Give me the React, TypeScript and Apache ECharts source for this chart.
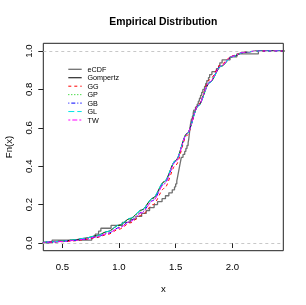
import React, { useEffect, useRef } from "react";
import * as echarts from "echarts";

// ---- data ----
const sample: number[] = [
  0.41, 0.76, 0.79, 0.82, 0.84, 0.93, 1.03, 1.1, 1.15, 1.2, 1.24, 1.27, 1.31,
  1.34, 1.38, 1.41, 1.44, 1.47, 1.49, 1.5, 1.51, 1.515, 1.52, 1.525, 1.53,
  1.535, 1.54, 1.545, 1.55, 1.565, 1.58, 1.59, 1.6, 1.61, 1.615, 1.618, 1.621,
  1.624, 1.627, 1.63, 1.635, 1.64, 1.648, 1.655, 1.66, 1.675, 1.69, 1.7, 1.71,
  1.72, 1.73, 1.74, 1.755, 1.765, 1.775, 1.79, 1.8, 1.82, 1.86, 1.88, 1.89,
  1.91, 1.98, 2.04, 2.23,
];

const gridX: number[] = [
  0.33, 0.4, 0.5, 0.6, 0.7, 0.8, 0.9, 1.0, 1.1, 1.2, 1.3, 1.4, 1.5, 1.6, 1.7,
  1.8, 1.9, 2.0, 2.1, 2.2, 2.3, 2.45,
];
const gompertz: number[] = [
  0.004, 0.006, 0.01, 0.016, 0.025, 0.038, 0.06, 0.093, 0.128, 0.172, 0.234,
  0.32, 0.43, 0.57, 0.715, 0.835, 0.92, 0.97, 0.992, 0.999, 1.0, 1.0,
];
const gg: number[] = [
  0.003, 0.004, 0.007, 0.011, 0.018, 0.028, 0.045, 0.072, 0.105, 0.145, 0.2,
  0.285, 0.405, 0.56, 0.72, 0.85, 0.93, 0.975, 0.994, 0.999, 1.0, 1.0,
];
const gp: number[] = [
  0.004, 0.006, 0.01, 0.016, 0.024, 0.037, 0.058, 0.09, 0.125, 0.169, 0.231,
  0.318, 0.43, 0.57, 0.716, 0.836, 0.921, 0.971, 0.993, 0.999, 1.0, 1.0,
];
const gb: number[] = [
  0.003, 0.005, 0.008, 0.013, 0.02, 0.031, 0.05, 0.08, 0.115, 0.16, 0.222,
  0.31, 0.425, 0.568, 0.716, 0.838, 0.922, 0.972, 0.993, 0.999, 1.0, 1.0,
];
const gl: number[] = [
  0.004, 0.006, 0.01, 0.016, 0.025, 0.038, 0.06, 0.094, 0.129, 0.173, 0.235,
  0.321, 0.43, 0.568, 0.713, 0.834, 0.92, 0.97, 0.992, 0.999, 1.0, 1.0,
];
const tw: number[] = [
  0.003, 0.005, 0.008, 0.013, 0.02, 0.032, 0.05, 0.078, 0.112, 0.157, 0.22,
  0.308, 0.424, 0.568, 0.717, 0.839, 0.923, 0.972, 0.993, 0.999, 1.0, 1.0,
];

const xTicks: number[] = [0.5, 1.0, 1.5, 2.0];
const yTicks: number[] = [0, 0.2, 0.4, 0.6, 0.8, 1.0];
const legendNames: string[] = ["eCDF", "Gompertz", "GG", "GP", "GB", "GL", "TW"];

const FONT = "Liberation Sans, Arial, Helvetica, sans-serif";

const STYLES: Record<string, { color: string; dash: number[] | null; width: number }> = {
  eCDF: { color: "#707070", dash: null, width: 1.3 },
  Gompertz: { color: "#000000", dash: null, width: 1 },
  GG: { color: "#ff0000", dash: [3, 3], width: 1 },
  GP: { color: "#00cd00", dash: [1, 2], width: 1 },
  GB: { color: "#0000ff", dash: [1, 2, 4, 2], width: 1 },
  GL: { color: "#00e5e5", dash: [6, 3], width: 1 },
  TW: { color: "#ff00ff", dash: [2, 2, 5, 2], width: 1 },
};

export default function App() {
  const ref = useRef<HTMLDivElement>(null);
  useEffect(() => {
    if (!ref.current) return;
    const chart = echarts.init(ref.current, null, { renderer: "svg" });
    const n = sample.length;
    const ecdfData: number[][] = [[0.3, 0]];
    sample.forEach((v, i) => ecdfData.push([v, (i + 1) / n]));
    ecdfData.push([2.5, 1]);
    const curve = (ys: number[]) => gridX.map((x, i) => [x, ys[i]]);
    const mk = (name: string, ys: number[]) => {
      const s = STYLES[name];
      return {
        name,
        type: "line",
        data: curve(ys),
        smooth: 0.3,
        smoothMonotone: "x",
        symbol: "none",
        lineStyle: { color: s.color, width: s.width, type: s.dash || "solid" },
        itemStyle: { color: s.color },
      };
    };

    const legendGraphics: any[] = [];
    legendNames.forEach((name, i) => {
      const s = STYLES[name];
      const y = 69.3 + i * 8.45;
      legendGraphics.push({
        type: "line",
        shape: { x1: 68.3, y1: y, x2: 81.7, y2: y },
        style: {
          stroke: s.color,
          lineWidth: s.width,
          lineDash: s.dash || null,
        },
      });
      legendGraphics.push({
        type: "text",
        x: 87.5,
        y,
        style: {
          text: name,
          font: `7.2px ${FONT}`,
          fill: "#000",
          textAlign: "left",
          textVerticalAlign: "middle",
        },
      });
    });

    chart.setOption({
      animation: false,
      grid: {
        left: 43.3,
        right: 22.7,
        top: 43.3,
        bottom: 54.3,
        show: true,
        borderColor: "#222",
        borderWidth: 1,
      },
      xAxis: {
        type: "value",
        min: 0.332,
        max: 2.45,
        splitLine: { show: false },
        axisLine: { show: false },
        axisTick: {
          show: true,
          length: 5,
          lineStyle: { color: "#222" },
          customValues: xTicks,
        },
        axisLabel: {
          customValues: xTicks,
          formatter: (v: number) => v.toFixed(1),
          fontFamily: FONT,
          fontSize: 9.6,
          color: "#000",
          margin: 11,
        },
      },
      yAxis: {
        type: "value",
        min: -0.04,
        max: 1.04,
        splitLine: { show: false },
        axisLine: { show: false },
        axisTick: {
          show: true,
          length: 5,
          lineStyle: { color: "#222" },
          customValues: yTicks,
        },
        axisLabel: {
          customValues: yTicks,
          formatter: (v: number) => v.toFixed(1),
          fontFamily: FONT,
          fontSize: 9.6,
          color: "#000",
          rotate: 90,
          margin: 10,
        },
      },
      graphic: [
        {
          type: "text",
          x: 163.3,
          y: 21.5,
          style: {
            text: "Empirical Distribution",
            font: `bold 10.4px ${FONT}`,
            fill: "#000",
            textAlign: "center",
            textVerticalAlign: "middle",
          },
        },
        {
          type: "text",
          x: 163.3,
          y: 288.5,
          style: {
            text: "x",
            font: `9.6px ${FONT}`,
            fill: "#000",
            textAlign: "center",
            textVerticalAlign: "middle",
          },
        },
        {
          type: "text",
          x: 8.5,
          y: 147,
          rotation: Math.PI / 2,
          style: {
            text: "Fn(x)",
            font: `9.6px ${FONT}`,
            fill: "#000",
            textAlign: "center",
            textVerticalAlign: "middle",
          },
        },
        ...legendGraphics,
      ],
      series: [
        {
          name: "eCDF",
          type: "line",
          step: "end",
          data: ecdfData,
          symbol: "none",
          lineStyle: { color: STYLES.eCDF.color, width: STYLES.eCDF.width },
          itemStyle: { color: STYLES.eCDF.color },
          markLine: {
            silent: true,
            symbol: "none",
            label: { show: false },
            lineStyle: { color: "#c8c8c8", type: [3, 3], width: 1 },
            data: [{ yAxis: 0 }, { yAxis: 1 }],
          },
        },
        mk("Gompertz", gompertz),
        mk("GG", gg),
        mk("GP", gp),
        mk("GB", gb),
        mk("GL", gl),
        mk("TW", tw),
      ],
    });
    return () => chart.dispose();
  }, []);
  return (
    <div
      ref={ref}
      style={{ position: "fixed", left: 0, top: 0, width: 306, height: 305 }}
    />
  );
}
